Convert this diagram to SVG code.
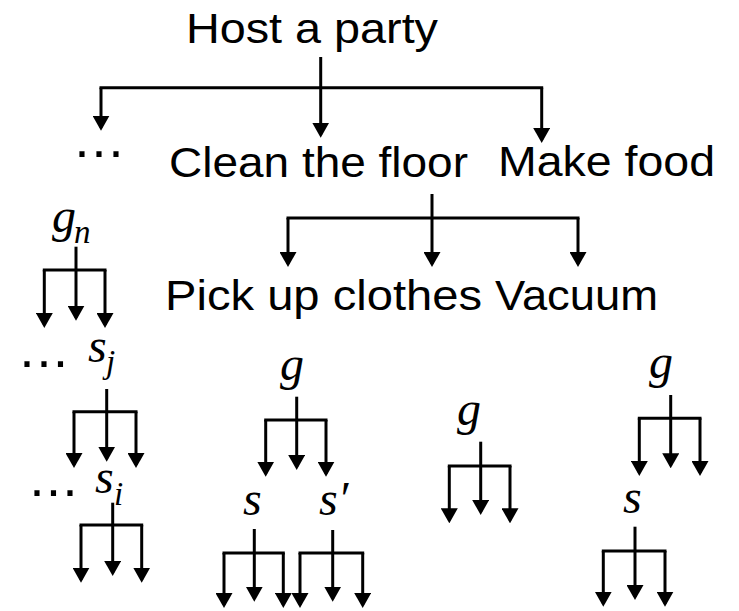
<svg xmlns="http://www.w3.org/2000/svg" width="739" height="611" viewBox="0 0 739 611">
<style>
.t{font-family:"Liberation Sans",Arial,sans-serif;font-size:42px;fill:#000}
.m{font-family:"Liberation Serif","Times New Roman",serif;font-style:italic;font-size:48px;fill:#000}
.sub{font-size:33px}
.d{font-family:"Liberation Sans",Arial,sans-serif;font-size:54px;fill:#000;text-anchor:middle}
.bar{fill:none;stroke:#000;stroke-width:3;stroke-linecap:square}
.ln{fill:none;stroke:#000;stroke-width:3}
.ar{fill:none;stroke:#000;stroke-width:3;marker-end:url(#ah)}
</style>
<defs>
<marker id="ah" viewBox="0 0 15 17" refX="12" refY="8.5" markerWidth="15" markerHeight="17" markerUnits="userSpaceOnUse" orient="auto">
<path d="M0,0 L15,8.5 L0,17 Z" fill="#000"/>
</marker>
</defs>
<rect width="739" height="611" fill="#fff"/>
<g id="host"><text class="t" x="186" y="43" textLength="252" lengthAdjust="spacingAndGlyphs">Host a party</text></g>
<g id="dots-top"><text class="d" x="82 99 116" y="169">···</text></g>
<g id="clean"><text class="t" x="169" y="177" textLength="299" lengthAdjust="spacingAndGlyphs">Clean the floor</text></g>
<g id="make"><text class="t" x="498" y="176" textLength="217" lengthAdjust="spacingAndGlyphs">Make food</text></g>
<g id="pick"><text class="t" x="165" y="310" textLength="317" lengthAdjust="spacingAndGlyphs">Pick up clothes</text></g>
<g id="vacuum"><text class="t" x="495" y="310" textLength="163" lengthAdjust="spacingAndGlyphs">Vacuum</text></g>
<g id="gn"><text class="m" x="52" y="232">g</text><text class="m sub" x="74" y="243">n</text></g>
<g id="dots-j"><text class="d" x="27 44 60.5" y="379">···</text></g>
<g id="sj"><text class="m" x="88" y="362">s</text><text class="m sub" x="106" y="373">j</text></g>
<g id="dots-i"><text class="d" x="37 53.5 70" y="508">···</text></g>
<g id="si"><text class="m" x="95" y="493">s</text><text class="m sub" x="114" y="505">i</text></g>
<g id="gA"><text class="m" x="280" y="380">g</text></g>
<g id="sA"><text class="m" x="243" y="515">s</text></g>
<g id="spA"><text class="m" x="319" y="515">s′</text></g>
<g id="gB"><text class="m" x="457" y="425">g</text></g>
<g id="gC"><text class="m" x="649" y="378">g</text></g>
<g id="sC"><text class="m" x="623" y="513">s</text></g>
<g id="connectors">
<!-- Host a party -->
<path class="ln" d="M320.7,57 V87.7"/>
<path class="bar" d="M101,87.7 H541.7"/>
<path class="ar" d="M101,87.7 V127.7"/>
<path class="ar" d="M320.7,87.7 V134.7"/>
<path class="ar" d="M541.7,87.7 V140"/>
<!-- Clean the floor -->
<path class="ln" d="M432,194 V218"/>
<path class="bar" d="M288,218 H578"/>
<path class="ar" d="M288,218 V264"/>
<path class="ar" d="M432,218 V264"/>
<path class="ar" d="M578,218 V264"/>
<!-- g_n -->
<path class="ln" d="M76,246.7 V270"/>
<path class="bar" d="M44.3,270 H105"/>
<path class="ar" d="M44.3,270 V325"/>
<path class="ar" d="M76,270 V317.7"/>
<path class="ar" d="M105,270 V325"/>
<!-- s_j -->
<path class="ln" d="M106.7,389 V411.7"/>
<path class="bar" d="M74,411.7 H136"/>
<path class="ar" d="M74,411.7 V465"/>
<path class="ar" d="M106.7,411.7 V458.7"/>
<path class="ar" d="M136,411.7 V465"/>
<!-- s_i -->
<path class="ln" d="M112.7,502.7 V525"/>
<path class="bar" d="M81,525 H141.7"/>
<path class="ar" d="M81,525 V579.7"/>
<path class="ar" d="M112.7,525 V573"/>
<path class="ar" d="M141.7,525 V579.7"/>
<!-- tree A g -->
<path class="ln" d="M296.7,396.7 V420"/>
<path class="bar" d="M265.7,420 H326"/>
<path class="ar" d="M265.7,420 V473.7"/>
<path class="ar" d="M296.7,420 V467"/>
<path class="ar" d="M326,420 V473.7"/>
<!-- tree A s -->
<path class="ln" d="M254.3,529 V553"/>
<path class="bar" d="M224,553 H283.3"/>
<path class="ar" d="M224,553 V605"/>
<path class="ar" d="M254.3,553 V598.7"/>
<path class="ar" d="M283.3,553 V605"/>
<!-- tree A s' -->
<path class="ln" d="M332.7,530 V553"/>
<path class="bar" d="M300,553 H362.7"/>
<path class="ar" d="M300,553 V605"/>
<path class="ar" d="M332.7,553 V598.7"/>
<path class="ar" d="M362.7,553 V605"/>
<!-- tree B g -->
<path class="ln" d="M480.7,441.7 V466"/>
<path class="bar" d="M449.3,466 H510"/>
<path class="ar" d="M449.3,466 V520.3"/>
<path class="ar" d="M480.7,466 V512"/>
<path class="ar" d="M510,466 V520.3"/>
<!-- tree C g -->
<path class="ln" d="M670.7,395 V418.3"/>
<path class="bar" d="M639.3,418.3 H700"/>
<path class="ar" d="M639.3,418.3 V473"/>
<path class="ar" d="M670.7,418.3 V465.3"/>
<path class="ar" d="M700,418.3 V473"/>
<!-- tree C s -->
<path class="ln" d="M635,526.7 V551"/>
<path class="bar" d="M603.3,551 H665"/>
<path class="ar" d="M603.3,551 V603.7"/>
<path class="ar" d="M635,551 V597"/>
<path class="ar" d="M665,551 V603.7"/>
</g>
</svg>
